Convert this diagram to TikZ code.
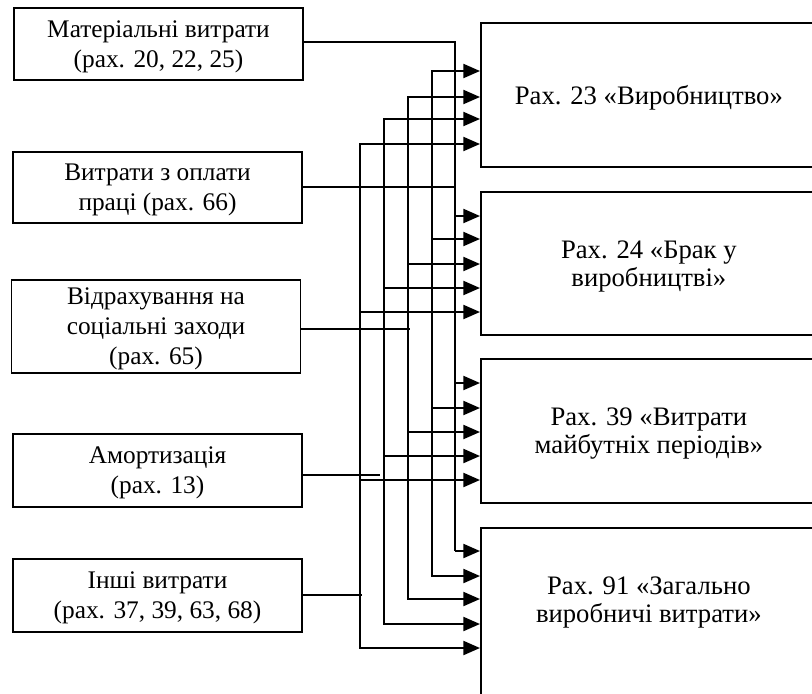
\documentclass[tikz,border=0pt]{standalone}
\usepackage{fontspec}
\setmainfont{Liberation Serif}
\usetikzlibrary{arrows.meta}
\begin{document}
\begin{tikzpicture}[x=0.75pt,y=-0.75pt,
  lbox/.style={draw, line width=1.1pt, minimum width=289*0.75pt, inner sep=0pt, align=center, text depth=0pt, font=\fontsize{19}{22.5}\selectfont},
  rbox/.style={draw, line width=1.3pt, minimum width=336*0.75pt, inner sep=0pt, align=center, text depth=0pt, font=\fontsize{20}{21}\selectfont, anchor=west},
  rtext/.style={align=center, inner sep=0pt, text depth=0pt, font=\fontsize{20}{21}\selectfont},
  feed/.style={line width=0.9pt},
  arr/.style={line width=1.6pt, -{Triangle[length=12.5pt,width=10.5pt]}},
]
\useasboundingbox (0,0) rectangle (812,693);
\clip (0,0) rectangle (812,693);
\fill[white] (0,0) rectangle (812,693);

% source boxes
\node[lbox, minimum height=72*0.75pt] (L1) at (158.5,44) {Матеріальні витрати\\(рах. 20, 22, 25)};
\node[lbox, minimum height=71*0.75pt] (L2) at (157.5,187.5) {Витрати з оплати\\праці (рах. 66)};
\node[lbox, minimum height=93*0.75pt] (L3) at (156,326.5) {Відрахування на\\соціальні заходи\\(рах. 65)};
\node[lbox, minimum height=73*0.75pt] (L4) at (157.5,470.5) {Амортизація\\(рах. 13)};
\node[lbox, minimum height=73*0.75pt] (L5) at (157.5,595.5) {Інші витрати\\(рах. 37, 39, 63, 68)};

% target boxes
\node[rbox, minimum height=144*0.75pt] (R1) at (480,95) {Рах. 23 «Виробництво»};
\node[rbox, minimum height=143*0.75pt] (R2) at (480,263.5) {Рах. 24 «Брак у\\виробництві»};
\node[rbox, minimum height=144*0.75pt] (R3) at (480,431) {Рах. 39 «Витрати\\майбутніх періодів»};
\node[rbox, minimum height=180*0.75pt, label={[rtext, yshift=14pt]center:{Рах. 91 «Загально\\виробничі витрати»}}] (R4) at (480,618) {};

% feed lines
\draw[feed] (L1.east |- 0,42) -- (455,42) -- (455,551);
\draw[feed] (L2.east |- 0,187) -- (455,187);
\draw[feed] (L3.east |- 0,329) -- (410,329);
\draw[feed] (L4.east |- 0,475) -- (380,475);
\draw[feed] (L5.east |- 0,595) -- (362,595);

% bus at 455
\draw[arr] (455,216) -- (R2.west |- 0,216);
\draw[arr] (455,383) -- (R3.west |- 0,383);
\draw[arr] (455,551) -- (R4.west |- 0,551);

% other buses
\foreach \bx/\ya/\yb/\yc/\yd in {432/71/239/408/576, 408/97/264/432/599, 384/119/288/456/624, 360/144/312/480/648} {
  \draw[arr] (\bx,\yd) -- (\bx,\ya) -- (R1.west |- 0,\ya);
  \draw[arr] (\bx,\ya) -- (\bx,\yd) -- (R4.west |- 0,\yd);
  \draw[arr] (\bx,\yb) -- (R2.west |- 0,\yb);
  \draw[arr] (\bx,\yc) -- (R3.west |- 0,\yc);
}
\end{tikzpicture}
\end{document}
